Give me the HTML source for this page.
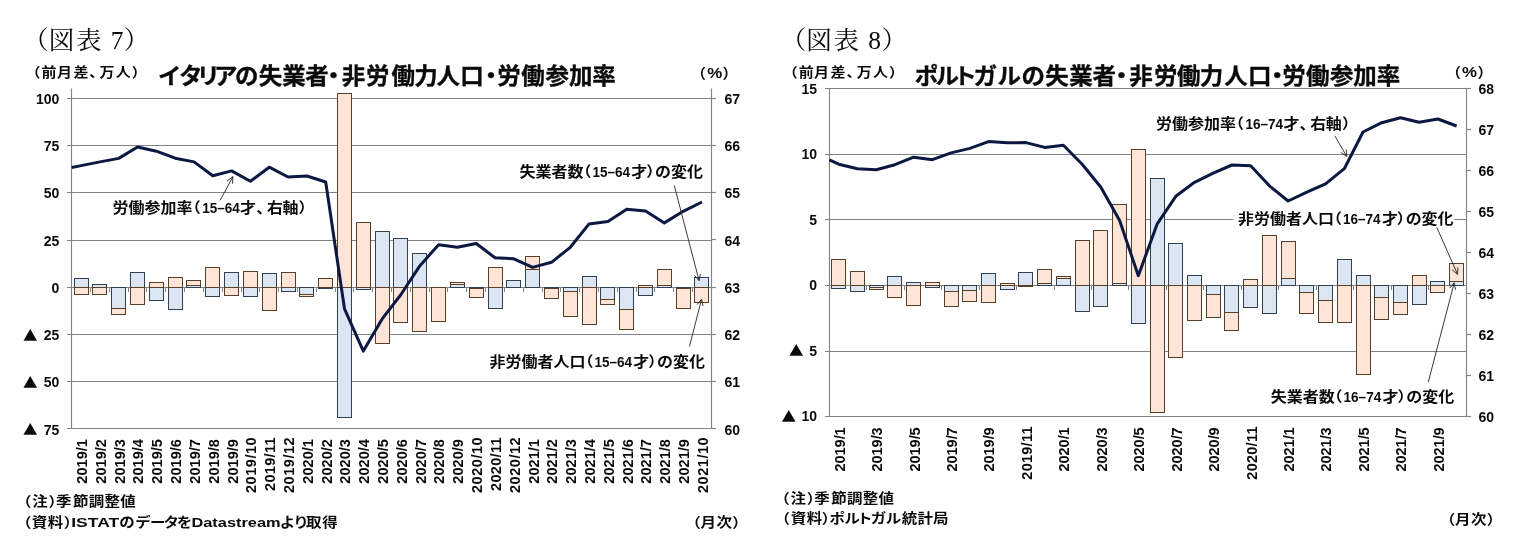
<!DOCTYPE html>
<html lang="ja"><head><meta charset="utf-8"><title>図表7・図表8</title>
<style>
html,body{margin:0;padding:0;background:#fff;}
body{width:1521px;height:557px;overflow:hidden;}
svg{display:block;}
text{fill:#0a0a0a;}
</style></head><body>
<svg width="1521" height="557" viewBox="0 0 1521 557">
<rect width="1521" height="557" fill="#fff"/>
<line x1="67" y1="98.5" x2="711.5" y2="98.5" stroke="#838383" stroke-width="1.15"/>
<line x1="67" y1="145.5" x2="711.5" y2="145.5" stroke="#838383" stroke-width="1.15"/>
<line x1="67" y1="192.5" x2="711.5" y2="192.5" stroke="#838383" stroke-width="1.15"/>
<line x1="67" y1="240.5" x2="711.5" y2="240.5" stroke="#838383" stroke-width="1.15"/>
<line x1="67" y1="334.5" x2="711.5" y2="334.5" stroke="#838383" stroke-width="1.15"/>
<line x1="67" y1="381.5" x2="711.5" y2="381.5" stroke="#838383" stroke-width="1.15"/>
<line x1="67" y1="428.5" x2="711.5" y2="428.5" stroke="#838383" stroke-width="1.15"/>
<line x1="67" y1="287.5" x2="716" y2="287.5" stroke="#838383" stroke-width="1.15"/>
<line x1="71.5" y1="287.5" x2="71.5" y2="292" stroke="#838383" stroke-width="1.0"/>
<line x1="90.5" y1="287.5" x2="90.5" y2="292" stroke="#838383" stroke-width="1.0"/>
<line x1="109.5" y1="287.5" x2="109.5" y2="292" stroke="#838383" stroke-width="1.0"/>
<line x1="128.5" y1="287.5" x2="128.5" y2="292" stroke="#838383" stroke-width="1.0"/>
<line x1="146.5" y1="287.5" x2="146.5" y2="292" stroke="#838383" stroke-width="1.0"/>
<line x1="165.5" y1="287.5" x2="165.5" y2="292" stroke="#838383" stroke-width="1.0"/>
<line x1="184.5" y1="287.5" x2="184.5" y2="292" stroke="#838383" stroke-width="1.0"/>
<line x1="203.5" y1="287.5" x2="203.5" y2="292" stroke="#838383" stroke-width="1.0"/>
<line x1="222.5" y1="287.5" x2="222.5" y2="292" stroke="#838383" stroke-width="1.0"/>
<line x1="241.5" y1="287.5" x2="241.5" y2="292" stroke="#838383" stroke-width="1.0"/>
<line x1="259.5" y1="287.5" x2="259.5" y2="292" stroke="#838383" stroke-width="1.0"/>
<line x1="278.5" y1="287.5" x2="278.5" y2="292" stroke="#838383" stroke-width="1.0"/>
<line x1="297.5" y1="287.5" x2="297.5" y2="292" stroke="#838383" stroke-width="1.0"/>
<line x1="316.5" y1="287.5" x2="316.5" y2="292" stroke="#838383" stroke-width="1.0"/>
<line x1="335.5" y1="287.5" x2="335.5" y2="292" stroke="#838383" stroke-width="1.0"/>
<line x1="353.5" y1="287.5" x2="353.5" y2="292" stroke="#838383" stroke-width="1.0"/>
<line x1="372.5" y1="287.5" x2="372.5" y2="292" stroke="#838383" stroke-width="1.0"/>
<line x1="391.5" y1="287.5" x2="391.5" y2="292" stroke="#838383" stroke-width="1.0"/>
<line x1="410.5" y1="287.5" x2="410.5" y2="292" stroke="#838383" stroke-width="1.0"/>
<line x1="429.5" y1="287.5" x2="429.5" y2="292" stroke="#838383" stroke-width="1.0"/>
<line x1="447.5" y1="287.5" x2="447.5" y2="292" stroke="#838383" stroke-width="1.0"/>
<line x1="466.5" y1="287.5" x2="466.5" y2="292" stroke="#838383" stroke-width="1.0"/>
<line x1="485.5" y1="287.5" x2="485.5" y2="292" stroke="#838383" stroke-width="1.0"/>
<line x1="504.5" y1="287.5" x2="504.5" y2="292" stroke="#838383" stroke-width="1.0"/>
<line x1="523.5" y1="287.5" x2="523.5" y2="292" stroke="#838383" stroke-width="1.0"/>
<line x1="542.5" y1="287.5" x2="542.5" y2="292" stroke="#838383" stroke-width="1.0"/>
<line x1="560.5" y1="287.5" x2="560.5" y2="292" stroke="#838383" stroke-width="1.0"/>
<line x1="579.5" y1="287.5" x2="579.5" y2="292" stroke="#838383" stroke-width="1.0"/>
<line x1="598.5" y1="287.5" x2="598.5" y2="292" stroke="#838383" stroke-width="1.0"/>
<line x1="617.5" y1="287.5" x2="617.5" y2="292" stroke="#838383" stroke-width="1.0"/>
<line x1="636.5" y1="287.5" x2="636.5" y2="292" stroke="#838383" stroke-width="1.0"/>
<line x1="654.5" y1="287.5" x2="654.5" y2="292" stroke="#838383" stroke-width="1.0"/>
<line x1="673.5" y1="287.5" x2="673.5" y2="292" stroke="#838383" stroke-width="1.0"/>
<line x1="692.5" y1="287.5" x2="692.5" y2="292" stroke="#838383" stroke-width="1.0"/>
<line x1="711.5" y1="287.5" x2="711.5" y2="292" stroke="#838383" stroke-width="1.0"/>
<line x1="711.5" y1="98.5" x2="716" y2="98.5" stroke="#838383" stroke-width="1.15"/>
<line x1="711.5" y1="145.5" x2="716" y2="145.5" stroke="#838383" stroke-width="1.15"/>
<line x1="711.5" y1="192.5" x2="716" y2="192.5" stroke="#838383" stroke-width="1.15"/>
<line x1="711.5" y1="239.5" x2="716" y2="239.5" stroke="#838383" stroke-width="1.15"/>
<line x1="711.5" y1="287.5" x2="716" y2="287.5" stroke="#838383" stroke-width="1.15"/>
<line x1="711.5" y1="334.5" x2="716" y2="334.5" stroke="#838383" stroke-width="1.15"/>
<line x1="711.5" y1="381.5" x2="716" y2="381.5" stroke="#838383" stroke-width="1.15"/>
<line x1="711.5" y1="428.5" x2="716" y2="428.5" stroke="#838383" stroke-width="1.15"/>
<rect x="74.5" y="278.5" width="14" height="9" fill="#dce6f2" stroke="#2f4152" stroke-width="1.0"/>
<rect x="74.5" y="287.5" width="14" height="7" fill="#fce4d6" stroke="#5a3f27" stroke-width="1.0"/>
<rect x="92.5" y="284.5" width="14" height="3" fill="#dce6f2" stroke="#2f4152" stroke-width="1.0"/>
<rect x="92.5" y="287.5" width="14" height="7" fill="#fce4d6" stroke="#5a3f27" stroke-width="1.0"/>
<rect x="111.5" y="287.5" width="14" height="21" fill="#dce6f2" stroke="#2f4152" stroke-width="1.0"/>
<rect x="111.5" y="308.5" width="14" height="6" fill="#fce4d6" stroke="#5a3f27" stroke-width="1.0"/>
<rect x="130.5" y="272.5" width="14" height="15" fill="#dce6f2" stroke="#2f4152" stroke-width="1.0"/>
<rect x="130.5" y="287.5" width="14" height="17" fill="#fce4d6" stroke="#5a3f27" stroke-width="1.0"/>
<rect x="149.5" y="287.5" width="14" height="13" fill="#dce6f2" stroke="#2f4152" stroke-width="1.0"/>
<rect x="149.5" y="282.5" width="14" height="5" fill="#fce4d6" stroke="#5a3f27" stroke-width="1.0"/>
<rect x="168.5" y="287.5" width="14" height="22" fill="#dce6f2" stroke="#2f4152" stroke-width="1.0"/>
<rect x="168.5" y="277.5" width="14" height="10" fill="#fce4d6" stroke="#5a3f27" stroke-width="1.0"/>
<rect x="186.5" y="285.5" width="14" height="2" fill="#dce6f2" stroke="#2f4152" stroke-width="1.0"/>
<rect x="186.5" y="280.5" width="14" height="5" fill="#fce4d6" stroke="#5a3f27" stroke-width="1.0"/>
<rect x="205.5" y="287.5" width="14" height="9" fill="#dce6f2" stroke="#2f4152" stroke-width="1.0"/>
<rect x="205.5" y="267.5" width="14" height="20" fill="#fce4d6" stroke="#5a3f27" stroke-width="1.0"/>
<rect x="224.5" y="272.5" width="14" height="15" fill="#dce6f2" stroke="#2f4152" stroke-width="1.0"/>
<rect x="224.5" y="287.5" width="14" height="8" fill="#fce4d6" stroke="#5a3f27" stroke-width="1.0"/>
<rect x="243.5" y="287.5" width="14" height="9" fill="#dce6f2" stroke="#2f4152" stroke-width="1.0"/>
<rect x="243.5" y="271.5" width="14" height="16" fill="#fce4d6" stroke="#5a3f27" stroke-width="1.0"/>
<rect x="262.5" y="273.5" width="14" height="14" fill="#dce6f2" stroke="#2f4152" stroke-width="1.0"/>
<rect x="262.5" y="287.5" width="14" height="23" fill="#fce4d6" stroke="#5a3f27" stroke-width="1.0"/>
<rect x="281.5" y="287.5" width="14" height="4" fill="#dce6f2" stroke="#2f4152" stroke-width="1.0"/>
<rect x="281.5" y="272.5" width="14" height="15" fill="#fce4d6" stroke="#5a3f27" stroke-width="1.0"/>
<rect x="299.5" y="287.5" width="14" height="7" fill="#dce6f2" stroke="#2f4152" stroke-width="1.0"/>
<rect x="299.5" y="294.5" width="14" height="2" fill="#fce4d6" stroke="#5a3f27" stroke-width="1.0"/>
<rect x="318.5" y="287.5" width="14" height="1" fill="#dce6f2" stroke="#2f4152" stroke-width="1.0"/>
<rect x="318.5" y="278.5" width="14" height="9" fill="#fce4d6" stroke="#5a3f27" stroke-width="1.0"/>
<rect x="337.5" y="287.5" width="14" height="130" fill="#dce6f2" stroke="#2f4152" stroke-width="1.0"/>
<rect x="337.5" y="93.5" width="14" height="194" fill="#fce4d6" stroke="#5a3f27" stroke-width="1.0"/>
<rect x="356.5" y="287.5" width="14" height="2" fill="#dce6f2" stroke="#2f4152" stroke-width="1.0"/>
<rect x="356.5" y="222.5" width="14" height="65" fill="#fce4d6" stroke="#5a3f27" stroke-width="1.0"/>
<rect x="375.5" y="231.5" width="14" height="56" fill="#dce6f2" stroke="#2f4152" stroke-width="1.0"/>
<rect x="375.5" y="287.5" width="14" height="56" fill="#fce4d6" stroke="#5a3f27" stroke-width="1.0"/>
<rect x="393.5" y="238.5" width="14" height="49" fill="#dce6f2" stroke="#2f4152" stroke-width="1.0"/>
<rect x="393.5" y="287.5" width="14" height="35" fill="#fce4d6" stroke="#5a3f27" stroke-width="1.0"/>
<rect x="412.5" y="253.5" width="14" height="34" fill="#dce6f2" stroke="#2f4152" stroke-width="1.0"/>
<rect x="412.5" y="287.5" width="14" height="44" fill="#fce4d6" stroke="#5a3f27" stroke-width="1.0"/>
<rect x="431.5" y="287.5" width="14" height="34" fill="#fce4d6" stroke="#5a3f27" stroke-width="1.0"/>
<rect x="450.5" y="284.5" width="14" height="3" fill="#dce6f2" stroke="#2f4152" stroke-width="1.0"/>
<rect x="450.5" y="282.5" width="14" height="2" fill="#fce4d6" stroke="#5a3f27" stroke-width="1.0"/>
<rect x="469.5" y="287.5" width="14" height="1" fill="#dce6f2" stroke="#2f4152" stroke-width="1.0"/>
<rect x="469.5" y="288.5" width="14" height="9" fill="#fce4d6" stroke="#5a3f27" stroke-width="1.0"/>
<rect x="488.5" y="287.5" width="14" height="21" fill="#dce6f2" stroke="#2f4152" stroke-width="1.0"/>
<rect x="488.5" y="267.5" width="14" height="20" fill="#fce4d6" stroke="#5a3f27" stroke-width="1.0"/>
<rect x="506.5" y="280.5" width="14" height="7" fill="#dce6f2" stroke="#2f4152" stroke-width="1.0"/>
<rect x="525.5" y="269.5" width="14" height="18" fill="#dce6f2" stroke="#2f4152" stroke-width="1.0"/>
<rect x="525.5" y="256.5" width="14" height="13" fill="#fce4d6" stroke="#5a3f27" stroke-width="1.0"/>
<rect x="544.5" y="287.5" width="14" height="1" fill="#dce6f2" stroke="#2f4152" stroke-width="1.0"/>
<rect x="544.5" y="288.5" width="14" height="10" fill="#fce4d6" stroke="#5a3f27" stroke-width="1.0"/>
<rect x="563.5" y="287.5" width="14" height="4" fill="#dce6f2" stroke="#2f4152" stroke-width="1.0"/>
<rect x="563.5" y="291.5" width="14" height="25" fill="#fce4d6" stroke="#5a3f27" stroke-width="1.0"/>
<rect x="582.5" y="276.5" width="14" height="11" fill="#dce6f2" stroke="#2f4152" stroke-width="1.0"/>
<rect x="582.5" y="287.5" width="14" height="37" fill="#fce4d6" stroke="#5a3f27" stroke-width="1.0"/>
<rect x="600.5" y="287.5" width="14" height="12" fill="#dce6f2" stroke="#2f4152" stroke-width="1.0"/>
<rect x="600.5" y="299.5" width="14" height="5" fill="#fce4d6" stroke="#5a3f27" stroke-width="1.0"/>
<rect x="619.5" y="287.5" width="14" height="22" fill="#dce6f2" stroke="#2f4152" stroke-width="1.0"/>
<rect x="619.5" y="309.5" width="14" height="20" fill="#fce4d6" stroke="#5a3f27" stroke-width="1.0"/>
<rect x="638.5" y="287.5" width="14" height="8" fill="#dce6f2" stroke="#2f4152" stroke-width="1.0"/>
<rect x="638.5" y="285.5" width="14" height="2" fill="#fce4d6" stroke="#5a3f27" stroke-width="1.0"/>
<rect x="657.5" y="285.5" width="14" height="2" fill="#dce6f2" stroke="#2f4152" stroke-width="1.0"/>
<rect x="657.5" y="269.5" width="14" height="16" fill="#fce4d6" stroke="#5a3f27" stroke-width="1.0"/>
<rect x="676.5" y="287.5" width="14" height="1" fill="#dce6f2" stroke="#2f4152" stroke-width="1.0"/>
<rect x="676.5" y="288.5" width="14" height="20" fill="#fce4d6" stroke="#5a3f27" stroke-width="1.0"/>
<rect x="694.5" y="277.5" width="14" height="10" fill="#dce6f2" stroke="#2f4152" stroke-width="1.0"/>
<rect x="694.5" y="287.5" width="14" height="15" fill="#fce4d6" stroke="#5a3f27" stroke-width="1.0"/>
<line x1="71.5" y1="88.5" x2="71.5" y2="428.3" stroke="#838383" stroke-width="1.15"/>
<line x1="711.5" y1="88.5" x2="711.5" y2="428.3" stroke="#838383" stroke-width="1.15"/>
<polyline points="71.7,167.5 81.11,165.6 99.92,161.9 118.74,158.4 137.55,147 156.37,151.2 175.18,158.2 194,161.9 212.81,175.8 231.62,170.9 250.44,181.3 269.25,167.2 288.07,177 306.88,176 325.7,182 344.51,308.8 363.33,351.1 382.14,318.9 400.96,294.5 419.77,265.9 438.59,244.7 457.4,247.3 476.22,243.5 495.03,257.8 513.85,258.8 532.66,267.4 551.48,262.3 570.29,247.3 589.1,223.9 607.92,221.6 626.73,209.3 645.55,211.1 664.36,222.9 683.18,211.3 701.99,202" fill="none" stroke="#0b1842" stroke-width="3" stroke-linejoin="round"/>
<line x1="825" y1="88.5" x2="1466.5" y2="88.5" stroke="#838383" stroke-width="1.15"/>
<line x1="825" y1="154.5" x2="1466.5" y2="154.5" stroke="#838383" stroke-width="1.15"/>
<line x1="825" y1="219.5" x2="1466.5" y2="219.5" stroke="#838383" stroke-width="1.15"/>
<line x1="825" y1="351.5" x2="1466.5" y2="351.5" stroke="#838383" stroke-width="1.15"/>
<line x1="825" y1="416.5" x2="1466.5" y2="416.5" stroke="#838383" stroke-width="1.15"/>
<line x1="825" y1="285.5" x2="1466.5" y2="285.5" stroke="#838383" stroke-width="1.15"/>
<line x1="829.5" y1="285.5" x2="829.5" y2="290" stroke="#838383" stroke-width="1.0"/>
<line x1="866.5" y1="285.5" x2="866.5" y2="290" stroke="#838383" stroke-width="1.0"/>
<line x1="904.5" y1="285.5" x2="904.5" y2="290" stroke="#838383" stroke-width="1.0"/>
<line x1="941.5" y1="285.5" x2="941.5" y2="290" stroke="#838383" stroke-width="1.0"/>
<line x1="979.5" y1="285.5" x2="979.5" y2="290" stroke="#838383" stroke-width="1.0"/>
<line x1="1016.5" y1="285.5" x2="1016.5" y2="290" stroke="#838383" stroke-width="1.0"/>
<line x1="1054.5" y1="285.5" x2="1054.5" y2="290" stroke="#838383" stroke-width="1.0"/>
<line x1="1091.5" y1="285.5" x2="1091.5" y2="290" stroke="#838383" stroke-width="1.0"/>
<line x1="1128.5" y1="285.5" x2="1128.5" y2="290" stroke="#838383" stroke-width="1.0"/>
<line x1="1166.5" y1="285.5" x2="1166.5" y2="290" stroke="#838383" stroke-width="1.0"/>
<line x1="1203.5" y1="285.5" x2="1203.5" y2="290" stroke="#838383" stroke-width="1.0"/>
<line x1="1241.5" y1="285.5" x2="1241.5" y2="290" stroke="#838383" stroke-width="1.0"/>
<line x1="1278.5" y1="285.5" x2="1278.5" y2="290" stroke="#838383" stroke-width="1.0"/>
<line x1="1316.5" y1="285.5" x2="1316.5" y2="290" stroke="#838383" stroke-width="1.0"/>
<line x1="1353.5" y1="285.5" x2="1353.5" y2="290" stroke="#838383" stroke-width="1.0"/>
<line x1="1391.5" y1="285.5" x2="1391.5" y2="290" stroke="#838383" stroke-width="1.0"/>
<line x1="1428.5" y1="285.5" x2="1428.5" y2="290" stroke="#838383" stroke-width="1.0"/>
<line x1="1466.5" y1="285.5" x2="1466.5" y2="290" stroke="#838383" stroke-width="1.0"/>
<line x1="1466.5" y1="88.5" x2="1471" y2="88.5" stroke="#838383" stroke-width="1.15"/>
<line x1="1466.5" y1="129.5" x2="1471" y2="129.5" stroke="#838383" stroke-width="1.15"/>
<line x1="1466.5" y1="170.5" x2="1471" y2="170.5" stroke="#838383" stroke-width="1.15"/>
<line x1="1466.5" y1="211.5" x2="1471" y2="211.5" stroke="#838383" stroke-width="1.15"/>
<line x1="1466.5" y1="252.5" x2="1471" y2="252.5" stroke="#838383" stroke-width="1.15"/>
<line x1="1466.5" y1="293.5" x2="1471" y2="293.5" stroke="#838383" stroke-width="1.15"/>
<line x1="1466.5" y1="334.5" x2="1471" y2="334.5" stroke="#838383" stroke-width="1.15"/>
<line x1="1466.5" y1="375.5" x2="1471" y2="375.5" stroke="#838383" stroke-width="1.15"/>
<line x1="1466.5" y1="416.5" x2="1471" y2="416.5" stroke="#838383" stroke-width="1.15"/>
<rect x="831.5" y="285.5" width="14" height="3" fill="#dce6f2" stroke="#2f4152" stroke-width="1.0"/>
<rect x="831.5" y="259.5" width="14" height="26" fill="#fce4d6" stroke="#5a3f27" stroke-width="1.0"/>
<rect x="850.5" y="285.5" width="14" height="6" fill="#dce6f2" stroke="#2f4152" stroke-width="1.0"/>
<rect x="850.5" y="271.5" width="14" height="14" fill="#fce4d6" stroke="#5a3f27" stroke-width="1.0"/>
<rect x="869.5" y="285.5" width="14" height="2" fill="#dce6f2" stroke="#2f4152" stroke-width="1.0"/>
<rect x="869.5" y="287.5" width="14" height="2" fill="#fce4d6" stroke="#5a3f27" stroke-width="1.0"/>
<rect x="887.5" y="276.5" width="14" height="9" fill="#dce6f2" stroke="#2f4152" stroke-width="1.0"/>
<rect x="887.5" y="285.5" width="14" height="12" fill="#fce4d6" stroke="#5a3f27" stroke-width="1.0"/>
<rect x="906.5" y="282.5" width="14" height="3" fill="#dce6f2" stroke="#2f4152" stroke-width="1.0"/>
<rect x="906.5" y="285.5" width="14" height="20" fill="#fce4d6" stroke="#5a3f27" stroke-width="1.0"/>
<rect x="925.5" y="285.5" width="14" height="2" fill="#dce6f2" stroke="#2f4152" stroke-width="1.0"/>
<rect x="925.5" y="282.5" width="14" height="3" fill="#fce4d6" stroke="#5a3f27" stroke-width="1.0"/>
<rect x="944.5" y="285.5" width="14" height="6" fill="#dce6f2" stroke="#2f4152" stroke-width="1.0"/>
<rect x="944.5" y="291.5" width="14" height="15" fill="#fce4d6" stroke="#5a3f27" stroke-width="1.0"/>
<rect x="962.5" y="285.5" width="14" height="5" fill="#dce6f2" stroke="#2f4152" stroke-width="1.0"/>
<rect x="962.5" y="290.5" width="14" height="11" fill="#fce4d6" stroke="#5a3f27" stroke-width="1.0"/>
<rect x="981.5" y="273.5" width="14" height="12" fill="#dce6f2" stroke="#2f4152" stroke-width="1.0"/>
<rect x="981.5" y="285.5" width="14" height="17" fill="#fce4d6" stroke="#5a3f27" stroke-width="1.0"/>
<rect x="1000.5" y="285.5" width="14" height="4" fill="#dce6f2" stroke="#2f4152" stroke-width="1.0"/>
<rect x="1000.5" y="283.5" width="14" height="2" fill="#fce4d6" stroke="#5a3f27" stroke-width="1.0"/>
<rect x="1018.5" y="272.5" width="14" height="13" fill="#dce6f2" stroke="#2f4152" stroke-width="1.0"/>
<rect x="1018.5" y="285.5" width="14" height="1" fill="#fce4d6" stroke="#5a3f27" stroke-width="1.0"/>
<rect x="1037.5" y="283.5" width="14" height="2" fill="#dce6f2" stroke="#2f4152" stroke-width="1.0"/>
<rect x="1037.5" y="269.5" width="14" height="14" fill="#fce4d6" stroke="#5a3f27" stroke-width="1.0"/>
<rect x="1056.5" y="278.5" width="14" height="7" fill="#dce6f2" stroke="#2f4152" stroke-width="1.0"/>
<rect x="1056.5" y="276.5" width="14" height="2" fill="#fce4d6" stroke="#5a3f27" stroke-width="1.0"/>
<rect x="1075.5" y="285.5" width="14" height="26" fill="#dce6f2" stroke="#2f4152" stroke-width="1.0"/>
<rect x="1075.5" y="240.5" width="14" height="45" fill="#fce4d6" stroke="#5a3f27" stroke-width="1.0"/>
<rect x="1093.5" y="285.5" width="14" height="21" fill="#dce6f2" stroke="#2f4152" stroke-width="1.0"/>
<rect x="1093.5" y="230.5" width="14" height="55" fill="#fce4d6" stroke="#5a3f27" stroke-width="1.0"/>
<rect x="1112.5" y="283.5" width="14" height="2" fill="#dce6f2" stroke="#2f4152" stroke-width="1.0"/>
<rect x="1112.5" y="204.5" width="14" height="79" fill="#fce4d6" stroke="#5a3f27" stroke-width="1.0"/>
<rect x="1131.5" y="285.5" width="14" height="38" fill="#dce6f2" stroke="#2f4152" stroke-width="1.0"/>
<rect x="1131.5" y="149.5" width="14" height="136" fill="#fce4d6" stroke="#5a3f27" stroke-width="1.0"/>
<rect x="1150.5" y="178.5" width="14" height="107" fill="#dce6f2" stroke="#2f4152" stroke-width="1.0"/>
<rect x="1150.5" y="285.5" width="14" height="127" fill="#fce4d6" stroke="#5a3f27" stroke-width="1.0"/>
<rect x="1168.5" y="243.5" width="14" height="42" fill="#dce6f2" stroke="#2f4152" stroke-width="1.0"/>
<rect x="1168.5" y="285.5" width="14" height="72" fill="#fce4d6" stroke="#5a3f27" stroke-width="1.0"/>
<rect x="1187.5" y="275.5" width="14" height="10" fill="#dce6f2" stroke="#2f4152" stroke-width="1.0"/>
<rect x="1187.5" y="285.5" width="14" height="35" fill="#fce4d6" stroke="#5a3f27" stroke-width="1.0"/>
<rect x="1206.5" y="285.5" width="14" height="9" fill="#dce6f2" stroke="#2f4152" stroke-width="1.0"/>
<rect x="1206.5" y="294.5" width="14" height="23" fill="#fce4d6" stroke="#5a3f27" stroke-width="1.0"/>
<rect x="1224.5" y="285.5" width="14" height="27" fill="#dce6f2" stroke="#2f4152" stroke-width="1.0"/>
<rect x="1224.5" y="312.5" width="14" height="18" fill="#fce4d6" stroke="#5a3f27" stroke-width="1.0"/>
<rect x="1243.5" y="285.5" width="14" height="22" fill="#dce6f2" stroke="#2f4152" stroke-width="1.0"/>
<rect x="1243.5" y="279.5" width="14" height="6" fill="#fce4d6" stroke="#5a3f27" stroke-width="1.0"/>
<rect x="1262.5" y="285.5" width="14" height="28" fill="#dce6f2" stroke="#2f4152" stroke-width="1.0"/>
<rect x="1262.5" y="235.5" width="14" height="50" fill="#fce4d6" stroke="#5a3f27" stroke-width="1.0"/>
<rect x="1281.5" y="278.5" width="14" height="7" fill="#dce6f2" stroke="#2f4152" stroke-width="1.0"/>
<rect x="1281.5" y="241.5" width="14" height="37" fill="#fce4d6" stroke="#5a3f27" stroke-width="1.0"/>
<rect x="1299.5" y="285.5" width="14" height="7" fill="#dce6f2" stroke="#2f4152" stroke-width="1.0"/>
<rect x="1299.5" y="292.5" width="14" height="21" fill="#fce4d6" stroke="#5a3f27" stroke-width="1.0"/>
<rect x="1318.5" y="285.5" width="14" height="15" fill="#dce6f2" stroke="#2f4152" stroke-width="1.0"/>
<rect x="1318.5" y="300.5" width="14" height="22" fill="#fce4d6" stroke="#5a3f27" stroke-width="1.0"/>
<rect x="1337.5" y="259.5" width="14" height="26" fill="#dce6f2" stroke="#2f4152" stroke-width="1.0"/>
<rect x="1337.5" y="285.5" width="14" height="37" fill="#fce4d6" stroke="#5a3f27" stroke-width="1.0"/>
<rect x="1356.5" y="275.5" width="14" height="10" fill="#dce6f2" stroke="#2f4152" stroke-width="1.0"/>
<rect x="1356.5" y="285.5" width="14" height="89" fill="#fce4d6" stroke="#5a3f27" stroke-width="1.0"/>
<rect x="1374.5" y="285.5" width="14" height="12" fill="#dce6f2" stroke="#2f4152" stroke-width="1.0"/>
<rect x="1374.5" y="297.5" width="14" height="22" fill="#fce4d6" stroke="#5a3f27" stroke-width="1.0"/>
<rect x="1393.5" y="285.5" width="14" height="17" fill="#dce6f2" stroke="#2f4152" stroke-width="1.0"/>
<rect x="1393.5" y="302.5" width="14" height="12" fill="#fce4d6" stroke="#5a3f27" stroke-width="1.0"/>
<rect x="1412.5" y="285.5" width="14" height="19" fill="#dce6f2" stroke="#2f4152" stroke-width="1.0"/>
<rect x="1412.5" y="275.5" width="14" height="10" fill="#fce4d6" stroke="#5a3f27" stroke-width="1.0"/>
<rect x="1430.5" y="281.5" width="14" height="4" fill="#dce6f2" stroke="#2f4152" stroke-width="1.0"/>
<rect x="1430.5" y="285.5" width="14" height="7" fill="#fce4d6" stroke="#5a3f27" stroke-width="1.0"/>
<rect x="1449.5" y="281.5" width="14" height="4" fill="#dce6f2" stroke="#2f4152" stroke-width="1.0"/>
<rect x="1449.5" y="263.5" width="14" height="18" fill="#fce4d6" stroke="#5a3f27" stroke-width="1.0"/>
<line x1="829.5" y1="88.3" x2="829.5" y2="416.5" stroke="#838383" stroke-width="1.15"/>
<line x1="1466.5" y1="88.3" x2="1466.5" y2="416.5" stroke="#838383" stroke-width="1.15"/>
<polyline points="829.4,159.9 838.76,164.2 857.49,168.8 876.21,169.7 894.93,164.7 913.66,157.2 932.38,159.7 951.1,152.9 969.83,148.4 988.55,141.6 1007.27,142.8 1026,142.6 1044.72,147.4 1063.44,145.3 1082.17,164.2 1100.89,187.2 1119.61,220.4 1138.34,275.7 1157.06,224.2 1175.79,196.3 1194.51,182.3 1213.23,173.1 1231.96,165 1250.68,165.8 1269.4,185.8 1288.13,201 1306.85,192.2 1325.57,183.8 1344.3,168.7 1363.02,132 1381.74,122.7 1400.47,117.7 1419.19,122.2 1437.91,119 1456.64,126" fill="none" stroke="#0b1842" stroke-width="3" stroke-linejoin="round"/>
<text y="48.6" font-size="25.5" font-weight="normal" font-family="'Liberation Serif', 'Noto Serif CJK JP', 'Noto Serif CJK SC', serif" style="font-feature-settings:'palt'" ><tspan x="41.6 61.4 88.75 103 117 130.8" text-anchor="middle">（図表 7）</tspan></text>
<text y="48.6" font-size="25.5" font-weight="normal" font-family="'Liberation Serif', 'Noto Serif CJK JP', 'Noto Serif CJK SC', serif" style="font-feature-settings:'palt'" ><tspan x="799.2 819 846.35 860.6 874.6 888.4" text-anchor="middle">（図表 8）</tspan></text>
<g transform="matrix(1 0 0 0.88 0 9.23)"><text y="76.9" font-size="15" font-weight="bold" font-family="'Liberation Sans', 'Noto Sans CJK JP', sans-serif" style="font-feature-settings:'palt'" ><tspan x="36.1 49.1 64.4 80.9 93 107.1 123.2 136.1" text-anchor="middle">（前月差、万人）</tspan></text></g>
<g transform="matrix(1 0 0 0.88 0 9.23)"><text y="76.9" font-size="15" font-weight="bold" font-family="'Liberation Sans', 'Noto Sans CJK JP', sans-serif" style="font-feature-settings:'palt'" ><tspan x="793.3 806.3 821.6 838.1 850.2 864.3 880.4 893.3" text-anchor="middle">（前月差、万人）</tspan></text></g>
<g transform="matrix(1 0 0 0.92 0 6.23)"><text y="77.9" font-size="15" font-weight="bold" font-family="'Liberation Sans', 'Noto Sans CJK JP', sans-serif" style="font-feature-settings:'palt'" ><tspan x="701.6" text-anchor="middle">（</tspan><tspan x="707.2" text-anchor="start" font-size="15.5" textLength="15" lengthAdjust="spacingAndGlyphs">%</tspan><tspan x="727" text-anchor="middle">）</tspan></text></g>
<g transform="matrix(1 0 0 0.92 0 6.2)"><text y="77.5" font-size="15" font-weight="bold" font-family="'Liberation Sans', 'Noto Sans CJK JP', sans-serif" style="font-feature-settings:'palt'" ><tspan x="1456.5" text-anchor="middle">（</tspan><tspan x="1462.1" text-anchor="start" font-size="15.5" textLength="15" lengthAdjust="spacingAndGlyphs">%</tspan><tspan x="1481.9" text-anchor="middle">）</tspan></text></g>
<g transform="matrix(1 0 0 0.95 0 4.21)"><text y="84.2" font-size="23.5" font-weight="bold" font-family="'Liberation Sans', 'Noto Sans CJK JP', sans-serif" style="font-feature-settings:'palt'" stroke="#0a0a0a" stroke-width="0.35"><tspan x="169.2 190.3 208 225.8 246.7 270.4 294 316.9 333.5 353.6 377.7 403.3 425.9 448.3 471.9 490.9 509 533.1 557.2 580.8 604.1" text-anchor="middle">イタリアの失業者・非労働力人口・労働参加率</tspan></text></g>
<g transform="matrix(1 0 0 0.95 0 4.21)"><text y="84.2" font-size="23.5" font-weight="bold" font-family="'Liberation Sans', 'Noto Sans CJK JP', sans-serif" style="font-feature-settings:'palt'" stroke="#0a0a0a" stroke-width="0.35"><tspan x="926 947.2 965.7 985.1 1009.2 1033.2 1056.9 1081 1104.3 1121.5 1141 1165.8 1188.7 1211.5 1235.9 1259.7 1277.3 1294 1317.8 1341.7 1365 1388.4" text-anchor="middle">ポルトガルの失業者・非労働力人口・労働参加率</tspan></text></g>
<text x="59.3" y="103.8" font-size="14" font-weight="bold" font-family="'Liberation Sans', 'Noto Sans CJK JP', sans-serif" text-anchor="end" >100</text>
<text x="59.3" y="151.05" font-size="14" font-weight="bold" font-family="'Liberation Sans', 'Noto Sans CJK JP', sans-serif" text-anchor="end" >75</text>
<text x="59.3" y="198.3" font-size="14" font-weight="bold" font-family="'Liberation Sans', 'Noto Sans CJK JP', sans-serif" text-anchor="end" >50</text>
<text x="59.3" y="245.55" font-size="14" font-weight="bold" font-family="'Liberation Sans', 'Noto Sans CJK JP', sans-serif" text-anchor="end" >25</text>
<text x="59.3" y="292.8" font-size="14" font-weight="bold" font-family="'Liberation Sans', 'Noto Sans CJK JP', sans-serif" text-anchor="end" >0</text>
<text x="59.3" y="340.05" font-size="14" font-weight="bold" font-family="'Liberation Sans', 'Noto Sans CJK JP', sans-serif" text-anchor="end" >25</text>
<text x="30.3" y="340.55" font-size="14.5" font-weight="bold" font-family="'Noto Sans CJK JP', sans-serif" text-anchor="middle" >▲</text>
<text x="59.3" y="387.3" font-size="14" font-weight="bold" font-family="'Liberation Sans', 'Noto Sans CJK JP', sans-serif" text-anchor="end" >50</text>
<text x="30.3" y="387.8" font-size="14.5" font-weight="bold" font-family="'Noto Sans CJK JP', sans-serif" text-anchor="middle" >▲</text>
<text x="59.3" y="434.55" font-size="14" font-weight="bold" font-family="'Liberation Sans', 'Noto Sans CJK JP', sans-serif" text-anchor="end" >75</text>
<text x="30.3" y="435.05" font-size="14.5" font-weight="bold" font-family="'Noto Sans CJK JP', sans-serif" text-anchor="middle" >▲</text>
<text x="724.5" y="103.75" font-size="14" font-weight="bold" font-family="'Liberation Sans', 'Noto Sans CJK JP', sans-serif" text-anchor="start" >67</text>
<text x="724.5" y="151.03" font-size="14" font-weight="bold" font-family="'Liberation Sans', 'Noto Sans CJK JP', sans-serif" text-anchor="start" >66</text>
<text x="724.5" y="198.31" font-size="14" font-weight="bold" font-family="'Liberation Sans', 'Noto Sans CJK JP', sans-serif" text-anchor="start" >65</text>
<text x="724.5" y="245.59" font-size="14" font-weight="bold" font-family="'Liberation Sans', 'Noto Sans CJK JP', sans-serif" text-anchor="start" >64</text>
<text x="724.5" y="292.87" font-size="14" font-weight="bold" font-family="'Liberation Sans', 'Noto Sans CJK JP', sans-serif" text-anchor="start" >63</text>
<text x="724.5" y="340.15" font-size="14" font-weight="bold" font-family="'Liberation Sans', 'Noto Sans CJK JP', sans-serif" text-anchor="start" >62</text>
<text x="724.5" y="387.43" font-size="14" font-weight="bold" font-family="'Liberation Sans', 'Noto Sans CJK JP', sans-serif" text-anchor="start" >61</text>
<text x="724.5" y="434.71" font-size="14" font-weight="bold" font-family="'Liberation Sans', 'Noto Sans CJK JP', sans-serif" text-anchor="start" >60</text>
<text x="817" y="93.8" font-size="14" font-weight="bold" font-family="'Liberation Sans', 'Noto Sans CJK JP', sans-serif" text-anchor="end" >15</text>
<text x="817" y="159.32" font-size="14" font-weight="bold" font-family="'Liberation Sans', 'Noto Sans CJK JP', sans-serif" text-anchor="end" >10</text>
<text x="817" y="224.84" font-size="14" font-weight="bold" font-family="'Liberation Sans', 'Noto Sans CJK JP', sans-serif" text-anchor="end" >5</text>
<text x="817" y="290.36" font-size="14" font-weight="bold" font-family="'Liberation Sans', 'Noto Sans CJK JP', sans-serif" text-anchor="end" >0</text>
<text x="817" y="355.88" font-size="14" font-weight="bold" font-family="'Liberation Sans', 'Noto Sans CJK JP', sans-serif" text-anchor="end" >5</text>
<text x="796.2" y="356.38" font-size="14.5" font-weight="bold" font-family="'Noto Sans CJK JP', sans-serif" text-anchor="middle" >▲</text>
<text x="817" y="421.4" font-size="14" font-weight="bold" font-family="'Liberation Sans', 'Noto Sans CJK JP', sans-serif" text-anchor="end" >10</text>
<text x="788.8" y="421.9" font-size="14.5" font-weight="bold" font-family="'Noto Sans CJK JP', sans-serif" text-anchor="middle" >▲</text>
<text x="1478.5" y="93.8" font-size="14" font-weight="bold" font-family="'Liberation Sans', 'Noto Sans CJK JP', sans-serif" text-anchor="start" >68</text>
<text x="1478.5" y="134.83" font-size="14" font-weight="bold" font-family="'Liberation Sans', 'Noto Sans CJK JP', sans-serif" text-anchor="start" >67</text>
<text x="1478.5" y="175.86" font-size="14" font-weight="bold" font-family="'Liberation Sans', 'Noto Sans CJK JP', sans-serif" text-anchor="start" >66</text>
<text x="1478.5" y="216.89" font-size="14" font-weight="bold" font-family="'Liberation Sans', 'Noto Sans CJK JP', sans-serif" text-anchor="start" >65</text>
<text x="1478.5" y="257.92" font-size="14" font-weight="bold" font-family="'Liberation Sans', 'Noto Sans CJK JP', sans-serif" text-anchor="start" >64</text>
<text x="1478.5" y="298.95" font-size="14" font-weight="bold" font-family="'Liberation Sans', 'Noto Sans CJK JP', sans-serif" text-anchor="start" >63</text>
<text x="1478.5" y="339.98" font-size="14" font-weight="bold" font-family="'Liberation Sans', 'Noto Sans CJK JP', sans-serif" text-anchor="start" >62</text>
<text x="1478.5" y="381.01" font-size="14" font-weight="bold" font-family="'Liberation Sans', 'Noto Sans CJK JP', sans-serif" text-anchor="start" >61</text>
<text x="1478.5" y="422.04" font-size="14" font-weight="bold" font-family="'Liberation Sans', 'Noto Sans CJK JP', sans-serif" text-anchor="start" >60</text>
<text transform="translate(87.01,439.1) rotate(-90)" font-size="14.5" font-weight="bold" font-family="'Liberation Sans', 'Noto Sans CJK JP', sans-serif" text-anchor="end" textLength="44.6" lengthAdjust="spacing">2019/1</text>
<text transform="translate(105.82,439.1) rotate(-90)" font-size="14.5" font-weight="bold" font-family="'Liberation Sans', 'Noto Sans CJK JP', sans-serif" text-anchor="end" textLength="44.6" lengthAdjust="spacing">2019/2</text>
<text transform="translate(124.64,439.1) rotate(-90)" font-size="14.5" font-weight="bold" font-family="'Liberation Sans', 'Noto Sans CJK JP', sans-serif" text-anchor="end" textLength="44.6" lengthAdjust="spacing">2019/3</text>
<text transform="translate(143.45,439.1) rotate(-90)" font-size="14.5" font-weight="bold" font-family="'Liberation Sans', 'Noto Sans CJK JP', sans-serif" text-anchor="end" textLength="44.6" lengthAdjust="spacing">2019/4</text>
<text transform="translate(162.27,439.1) rotate(-90)" font-size="14.5" font-weight="bold" font-family="'Liberation Sans', 'Noto Sans CJK JP', sans-serif" text-anchor="end" textLength="44.6" lengthAdjust="spacing">2019/5</text>
<text transform="translate(181.08,439.1) rotate(-90)" font-size="14.5" font-weight="bold" font-family="'Liberation Sans', 'Noto Sans CJK JP', sans-serif" text-anchor="end" textLength="44.6" lengthAdjust="spacing">2019/6</text>
<text transform="translate(199.9,439.1) rotate(-90)" font-size="14.5" font-weight="bold" font-family="'Liberation Sans', 'Noto Sans CJK JP', sans-serif" text-anchor="end" textLength="44.6" lengthAdjust="spacing">2019/7</text>
<text transform="translate(218.71,439.1) rotate(-90)" font-size="14.5" font-weight="bold" font-family="'Liberation Sans', 'Noto Sans CJK JP', sans-serif" text-anchor="end" textLength="44.6" lengthAdjust="spacing">2019/8</text>
<text transform="translate(237.53,439.1) rotate(-90)" font-size="14.5" font-weight="bold" font-family="'Liberation Sans', 'Noto Sans CJK JP', sans-serif" text-anchor="end" textLength="44.6" lengthAdjust="spacing">2019/9</text>
<text transform="translate(256.34,437.4) rotate(-90)" font-size="14.5" font-weight="bold" font-family="'Liberation Sans', 'Noto Sans CJK JP', sans-serif" text-anchor="end" textLength="55.6" lengthAdjust="spacing">2019/10</text>
<text transform="translate(275.15,437.4) rotate(-90)" font-size="14.5" font-weight="bold" font-family="'Liberation Sans', 'Noto Sans CJK JP', sans-serif" text-anchor="end" textLength="53.6" lengthAdjust="spacing">2019/11</text>
<text transform="translate(293.97,437.4) rotate(-90)" font-size="14.5" font-weight="bold" font-family="'Liberation Sans', 'Noto Sans CJK JP', sans-serif" text-anchor="end" textLength="55.6" lengthAdjust="spacing">2019/12</text>
<text transform="translate(312.78,439.1) rotate(-90)" font-size="14.5" font-weight="bold" font-family="'Liberation Sans', 'Noto Sans CJK JP', sans-serif" text-anchor="end" textLength="44.6" lengthAdjust="spacing">2020/1</text>
<text transform="translate(331.6,439.1) rotate(-90)" font-size="14.5" font-weight="bold" font-family="'Liberation Sans', 'Noto Sans CJK JP', sans-serif" text-anchor="end" textLength="44.6" lengthAdjust="spacing">2020/2</text>
<text transform="translate(350.41,439.1) rotate(-90)" font-size="14.5" font-weight="bold" font-family="'Liberation Sans', 'Noto Sans CJK JP', sans-serif" text-anchor="end" textLength="44.6" lengthAdjust="spacing">2020/3</text>
<text transform="translate(369.23,439.1) rotate(-90)" font-size="14.5" font-weight="bold" font-family="'Liberation Sans', 'Noto Sans CJK JP', sans-serif" text-anchor="end" textLength="44.6" lengthAdjust="spacing">2020/4</text>
<text transform="translate(388.04,439.1) rotate(-90)" font-size="14.5" font-weight="bold" font-family="'Liberation Sans', 'Noto Sans CJK JP', sans-serif" text-anchor="end" textLength="44.6" lengthAdjust="spacing">2020/5</text>
<text transform="translate(406.86,439.1) rotate(-90)" font-size="14.5" font-weight="bold" font-family="'Liberation Sans', 'Noto Sans CJK JP', sans-serif" text-anchor="end" textLength="44.6" lengthAdjust="spacing">2020/6</text>
<text transform="translate(425.67,439.1) rotate(-90)" font-size="14.5" font-weight="bold" font-family="'Liberation Sans', 'Noto Sans CJK JP', sans-serif" text-anchor="end" textLength="44.6" lengthAdjust="spacing">2020/7</text>
<text transform="translate(444.49,439.1) rotate(-90)" font-size="14.5" font-weight="bold" font-family="'Liberation Sans', 'Noto Sans CJK JP', sans-serif" text-anchor="end" textLength="44.6" lengthAdjust="spacing">2020/8</text>
<text transform="translate(463.3,439.1) rotate(-90)" font-size="14.5" font-weight="bold" font-family="'Liberation Sans', 'Noto Sans CJK JP', sans-serif" text-anchor="end" textLength="44.6" lengthAdjust="spacing">2020/9</text>
<text transform="translate(482.12,437.4) rotate(-90)" font-size="14.5" font-weight="bold" font-family="'Liberation Sans', 'Noto Sans CJK JP', sans-serif" text-anchor="end" textLength="55.6" lengthAdjust="spacing">2020/10</text>
<text transform="translate(500.93,437.4) rotate(-90)" font-size="14.5" font-weight="bold" font-family="'Liberation Sans', 'Noto Sans CJK JP', sans-serif" text-anchor="end" textLength="53.6" lengthAdjust="spacing">2020/11</text>
<text transform="translate(519.75,437.4) rotate(-90)" font-size="14.5" font-weight="bold" font-family="'Liberation Sans', 'Noto Sans CJK JP', sans-serif" text-anchor="end" textLength="55.6" lengthAdjust="spacing">2020/12</text>
<text transform="translate(538.56,439.1) rotate(-90)" font-size="14.5" font-weight="bold" font-family="'Liberation Sans', 'Noto Sans CJK JP', sans-serif" text-anchor="end" textLength="44.6" lengthAdjust="spacing">2021/1</text>
<text transform="translate(557.38,439.1) rotate(-90)" font-size="14.5" font-weight="bold" font-family="'Liberation Sans', 'Noto Sans CJK JP', sans-serif" text-anchor="end" textLength="44.6" lengthAdjust="spacing">2021/2</text>
<text transform="translate(576.19,439.1) rotate(-90)" font-size="14.5" font-weight="bold" font-family="'Liberation Sans', 'Noto Sans CJK JP', sans-serif" text-anchor="end" textLength="44.6" lengthAdjust="spacing">2021/3</text>
<text transform="translate(595,439.1) rotate(-90)" font-size="14.5" font-weight="bold" font-family="'Liberation Sans', 'Noto Sans CJK JP', sans-serif" text-anchor="end" textLength="44.6" lengthAdjust="spacing">2021/4</text>
<text transform="translate(613.82,439.1) rotate(-90)" font-size="14.5" font-weight="bold" font-family="'Liberation Sans', 'Noto Sans CJK JP', sans-serif" text-anchor="end" textLength="44.6" lengthAdjust="spacing">2021/5</text>
<text transform="translate(632.63,439.1) rotate(-90)" font-size="14.5" font-weight="bold" font-family="'Liberation Sans', 'Noto Sans CJK JP', sans-serif" text-anchor="end" textLength="44.6" lengthAdjust="spacing">2021/6</text>
<text transform="translate(651.45,439.1) rotate(-90)" font-size="14.5" font-weight="bold" font-family="'Liberation Sans', 'Noto Sans CJK JP', sans-serif" text-anchor="end" textLength="44.6" lengthAdjust="spacing">2021/7</text>
<text transform="translate(670.26,439.1) rotate(-90)" font-size="14.5" font-weight="bold" font-family="'Liberation Sans', 'Noto Sans CJK JP', sans-serif" text-anchor="end" textLength="44.6" lengthAdjust="spacing">2021/8</text>
<text transform="translate(689.08,439.1) rotate(-90)" font-size="14.5" font-weight="bold" font-family="'Liberation Sans', 'Noto Sans CJK JP', sans-serif" text-anchor="end" textLength="44.6" lengthAdjust="spacing">2021/9</text>
<text transform="translate(707.89,437.4) rotate(-90)" font-size="14.5" font-weight="bold" font-family="'Liberation Sans', 'Noto Sans CJK JP', sans-serif" text-anchor="end" textLength="55.6" lengthAdjust="spacing">2021/10</text>
<text transform="translate(844.66,427.3) rotate(-90)" font-size="14.5" font-weight="bold" font-family="'Liberation Sans', 'Noto Sans CJK JP', sans-serif" text-anchor="end" textLength="44.2" lengthAdjust="spacing">2019/1</text>
<text transform="translate(882.11,427.3) rotate(-90)" font-size="14.5" font-weight="bold" font-family="'Liberation Sans', 'Noto Sans CJK JP', sans-serif" text-anchor="end" textLength="44.2" lengthAdjust="spacing">2019/3</text>
<text transform="translate(919.56,427.3) rotate(-90)" font-size="14.5" font-weight="bold" font-family="'Liberation Sans', 'Noto Sans CJK JP', sans-serif" text-anchor="end" textLength="44.2" lengthAdjust="spacing">2019/5</text>
<text transform="translate(957,427.3) rotate(-90)" font-size="14.5" font-weight="bold" font-family="'Liberation Sans', 'Noto Sans CJK JP', sans-serif" text-anchor="end" textLength="44.2" lengthAdjust="spacing">2019/7</text>
<text transform="translate(994.45,427.3) rotate(-90)" font-size="14.5" font-weight="bold" font-family="'Liberation Sans', 'Noto Sans CJK JP', sans-serif" text-anchor="end" textLength="44.2" lengthAdjust="spacing">2019/9</text>
<text transform="translate(1031.9,426.5) rotate(-90)" font-size="14.5" font-weight="bold" font-family="'Liberation Sans', 'Noto Sans CJK JP', sans-serif" text-anchor="end" textLength="53.2" lengthAdjust="spacing">2019/11</text>
<text transform="translate(1069.34,427.3) rotate(-90)" font-size="14.5" font-weight="bold" font-family="'Liberation Sans', 'Noto Sans CJK JP', sans-serif" text-anchor="end" textLength="44.2" lengthAdjust="spacing">2020/1</text>
<text transform="translate(1106.79,427.3) rotate(-90)" font-size="14.5" font-weight="bold" font-family="'Liberation Sans', 'Noto Sans CJK JP', sans-serif" text-anchor="end" textLength="44.2" lengthAdjust="spacing">2020/3</text>
<text transform="translate(1144.24,427.3) rotate(-90)" font-size="14.5" font-weight="bold" font-family="'Liberation Sans', 'Noto Sans CJK JP', sans-serif" text-anchor="end" textLength="44.2" lengthAdjust="spacing">2020/5</text>
<text transform="translate(1181.69,427.3) rotate(-90)" font-size="14.5" font-weight="bold" font-family="'Liberation Sans', 'Noto Sans CJK JP', sans-serif" text-anchor="end" textLength="44.2" lengthAdjust="spacing">2020/7</text>
<text transform="translate(1219.13,427.3) rotate(-90)" font-size="14.5" font-weight="bold" font-family="'Liberation Sans', 'Noto Sans CJK JP', sans-serif" text-anchor="end" textLength="44.2" lengthAdjust="spacing">2020/9</text>
<text transform="translate(1256.58,426.5) rotate(-90)" font-size="14.5" font-weight="bold" font-family="'Liberation Sans', 'Noto Sans CJK JP', sans-serif" text-anchor="end" textLength="53.2" lengthAdjust="spacing">2020/11</text>
<text transform="translate(1294.03,427.3) rotate(-90)" font-size="14.5" font-weight="bold" font-family="'Liberation Sans', 'Noto Sans CJK JP', sans-serif" text-anchor="end" textLength="44.2" lengthAdjust="spacing">2021/1</text>
<text transform="translate(1331.47,427.3) rotate(-90)" font-size="14.5" font-weight="bold" font-family="'Liberation Sans', 'Noto Sans CJK JP', sans-serif" text-anchor="end" textLength="44.2" lengthAdjust="spacing">2021/3</text>
<text transform="translate(1368.92,427.3) rotate(-90)" font-size="14.5" font-weight="bold" font-family="'Liberation Sans', 'Noto Sans CJK JP', sans-serif" text-anchor="end" textLength="44.2" lengthAdjust="spacing">2021/5</text>
<text transform="translate(1406.37,427.3) rotate(-90)" font-size="14.5" font-weight="bold" font-family="'Liberation Sans', 'Noto Sans CJK JP', sans-serif" text-anchor="end" textLength="44.2" lengthAdjust="spacing">2021/7</text>
<text transform="translate(1443.81,427.3) rotate(-90)" font-size="14.5" font-weight="bold" font-family="'Liberation Sans', 'Noto Sans CJK JP', sans-serif" text-anchor="end" textLength="44.2" lengthAdjust="spacing">2021/9</text>
<g transform="matrix(1 0 0 0.9 0 17.71)"><text y="177.1" font-size="16" font-weight="bold" font-family="'Liberation Sans', 'Noto Sans CJK JP', sans-serif" style="font-feature-settings:'palt'" ><tspan x="527.5 543.5 559.5 575.5 586.7" text-anchor="middle">失業者数（</tspan><tspan x="592.4" text-anchor="start" font-size="15.5" textLength="37.6" lengthAdjust="spacingAndGlyphs">15–64</tspan><tspan x="639.3 650.9 663 679 695" text-anchor="middle">才）の変化</tspan></text></g>
<g transform="matrix(1 0 0 0.9 0 21.34)"><text y="213.4" font-size="16" font-weight="bold" font-family="'Liberation Sans', 'Noto Sans CJK JP', sans-serif" style="font-feature-settings:'palt'" ><tspan x="120.6 136.6 152.6 168.6 184.6 196" text-anchor="middle">労働参加率（</tspan><tspan x="202.2" text-anchor="start" font-size="15.5" textLength="37.6" lengthAdjust="spacingAndGlyphs">15–64</tspan><tspan x="248.1 260.3 274.9 290.4 303.3" text-anchor="middle">才、右軸）</tspan></text></g>
<g transform="matrix(1 0 0 0.9 0 36.72)"><text y="367.2" font-size="16" font-weight="bold" font-family="'Liberation Sans', 'Noto Sans CJK JP', sans-serif" style="font-feature-settings:'palt'" ><tspan x="497.5 513.5 529.5 545.5 561.5 577.5 588.7" text-anchor="middle">非労働者人口（</tspan><tspan x="594.4" text-anchor="start" font-size="15.5" textLength="37.6" lengthAdjust="spacingAndGlyphs">15–64</tspan><tspan x="641.3 652.9 665 681 697" text-anchor="middle">才）の変化</tspan></text></g>
<g transform="matrix(1 0 0 0.9 0 12.92)"><text y="129.2" font-size="16" font-weight="bold" font-family="'Liberation Sans', 'Noto Sans CJK JP', sans-serif" style="font-feature-settings:'palt'" ><tspan x="1163.9 1179.9 1195.9 1211.9 1227.9 1239.3" text-anchor="middle">労働参加率（</tspan><tspan x="1245.5" text-anchor="start" font-size="15.5" textLength="37.6" lengthAdjust="spacingAndGlyphs">16–74</tspan><tspan x="1291.4 1303.6 1318.2 1333.7 1346.6" text-anchor="middle">才、右軸）</tspan></text></g>
<g transform="matrix(1 0 0 0.9 0 40.23)"><text y="402.3" font-size="16" font-weight="bold" font-family="'Liberation Sans', 'Noto Sans CJK JP', sans-serif" style="font-feature-settings:'palt'" ><tspan x="1278.7 1294.7 1310.7 1326.7 1337.9" text-anchor="middle">失業者数（</tspan><tspan x="1343.6" text-anchor="start" font-size="15.5" textLength="37.6" lengthAdjust="spacingAndGlyphs">16–74</tspan><tspan x="1390.5 1402.1 1414.2 1430.2 1446.2" text-anchor="middle">才）の変化</tspan></text></g>
<rect x="1233.5" y="209" width="220.5" height="20" fill="#fff"/>
<g transform="matrix(1 0 0 0.9 0 22.44)"><text y="224.4" font-size="16" font-weight="bold" font-family="'Liberation Sans', 'Noto Sans CJK JP', sans-serif" style="font-feature-settings:'palt'" ><tspan x="1246.1 1262.1 1278.1 1294.1 1310.1 1326.1 1337.3" text-anchor="middle">非労働者人口（</tspan><tspan x="1343" text-anchor="start" font-size="15.5" textLength="37.6" lengthAdjust="spacingAndGlyphs">16–74</tspan><tspan x="1389.9 1401.5 1413.6 1429.6 1445.6" text-anchor="middle">才）の変化</tspan></text></g>
<line x1="220.1" y1="200.4" x2="232.9" y2="176.7" stroke="#222" stroke-width="0.9"/>
<line x1="232.9" y1="176.7" x2="227.23" y2="180.8" stroke="#222" stroke-width="0.9"/>
<line x1="232.9" y1="176.7" x2="232.58" y2="183.69" stroke="#222" stroke-width="0.9"/>
<line x1="674.3" y1="185.6" x2="699.1" y2="280.7" stroke="#222" stroke-width="0.9"/>
<line x1="699.1" y1="280.7" x2="700.46" y2="273.83" stroke="#222" stroke-width="0.9"/>
<line x1="699.1" y1="280.7" x2="694.56" y2="275.37" stroke="#222" stroke-width="0.9"/>
<line x1="689.5" y1="346.4" x2="701.6" y2="299.2" stroke="#222" stroke-width="0.9"/>
<line x1="701.6" y1="299.2" x2="697.09" y2="304.55" stroke="#222" stroke-width="0.9"/>
<line x1="701.6" y1="299.2" x2="702.98" y2="306.06" stroke="#222" stroke-width="0.9"/>
<line x1="1335" y1="136.1" x2="1346.7" y2="156.4" stroke="#222" stroke-width="0.9"/>
<line x1="1346.7" y1="156.4" x2="1346.19" y2="149.42" stroke="#222" stroke-width="0.9"/>
<line x1="1346.7" y1="156.4" x2="1340.91" y2="152.46" stroke="#222" stroke-width="0.9"/>
<line x1="1436.8" y1="227.4" x2="1457.6" y2="274.4" stroke="#222" stroke-width="0.9"/>
<line x1="1457.6" y1="274.4" x2="1457.83" y2="267.4" stroke="#222" stroke-width="0.9"/>
<line x1="1457.6" y1="274.4" x2="1452.26" y2="269.87" stroke="#222" stroke-width="0.9"/>
<line x1="1428.3" y1="382" x2="1454.2" y2="282.9" stroke="#222" stroke-width="0.9"/>
<line x1="1454.2" y1="282.9" x2="1449.66" y2="288.23" stroke="#222" stroke-width="0.9"/>
<line x1="1454.2" y1="282.9" x2="1455.55" y2="289.77" stroke="#222" stroke-width="0.9"/>
<g transform="matrix(1 0 0 0.88 0 60.71)"><text y="505.9" font-size="15.5" font-weight="bold" font-family="'Liberation Sans', 'Noto Sans CJK JP', sans-serif" style="font-feature-settings:'palt'" ><tspan x="26.9 40.1 53 63.8 80.7 96.6 112.3 128" text-anchor="middle">（注）季節調整値</tspan></text></g>
<g transform="matrix(1 0 0 0.88 0 60.32)"><text y="502.7" font-size="15.5" font-weight="bold" font-family="'Liberation Sans', 'Noto Sans CJK JP', sans-serif" style="font-feature-settings:'palt'" ><tspan x="785.1 798.3 811.2 822 838.9 854.8 870.5 886.2" text-anchor="middle">（注）季節調整値</tspan></text></g>
<g transform="matrix(1 0 0 0.88 0 63.22)"><text y="526.8" font-size="15.5" font-weight="bold" font-family="'Liberation Sans', 'Noto Sans CJK JP', sans-serif" style="font-feature-settings:'palt'" ><tspan x="26.9 39.4 55.5 68.4" text-anchor="middle">（資料）</tspan><tspan x="71.2" text-anchor="start" textLength="48" lengthAdjust="spacingAndGlyphs">ISTAT</tspan><tspan x="127 142.9 157.7 171.1 184.3" text-anchor="middle">のデータを</tspan><tspan x="191.4" text-anchor="start" textLength="89.2" lengthAdjust="spacingAndGlyphs">Datastream</tspan><tspan x="287.2 300.9 313.8 330.1" text-anchor="middle">より取得</tspan></text></g>
<g transform="matrix(1 0 0 0.88 0 62.75)"><text y="522.9" font-size="15.5" font-weight="bold" font-family="'Liberation Sans', 'Noto Sans CJK JP', sans-serif" style="font-feature-settings:'palt'" ><tspan x="785.4 798.4 814.4 826.4 836.9 852.2 865.2 878.3 893.4 909.4 925.3 940.7" text-anchor="middle">（資料）ポルトガル統計局</tspan></text></g>
<g transform="matrix(1 0 0 0.88 0 63.22)"><text y="526.8" font-size="15.5" font-weight="bold" font-family="'Liberation Sans', 'Noto Sans CJK JP', sans-serif" style="font-feature-settings:'palt'" ><tspan x="696.1 708.2 724.3 736.9" text-anchor="middle">（月次）</tspan></text></g>
<g transform="matrix(1 0 0 0.88 0 62.89)"><text y="524.1" font-size="15.5" font-weight="bold" font-family="'Liberation Sans', 'Noto Sans CJK JP', sans-serif" style="font-feature-settings:'palt'" ><tspan x="1450.6 1462.7 1478.8 1491.4" text-anchor="middle">（月次）</tspan></text></g>
</svg>
</body></html>
